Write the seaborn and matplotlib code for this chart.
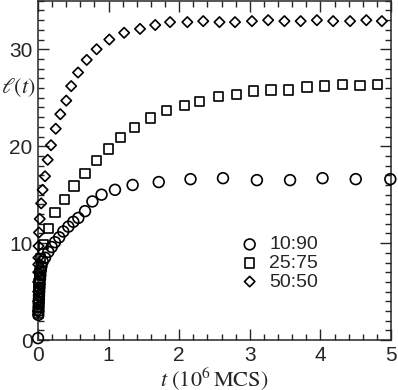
import numpy as np
import pandas as pd
import matplotlib
matplotlib.use('Agg')
import matplotlib.pyplot as plt
from matplotlib.ticker import MultipleLocator
import seaborn as sns

# data (t in 10^6 MCS, l = domain length)
t_1090 = [0.0, 0.004, 0.006, 0.008, 0.010, 0.012, 0.014, 0.017, 0.020, 0.024,
          0.028, 0.033, 0.040, 0.048, 0.067, 0.099, 0.146, 0.194, 0.24, 0.30,
          0.358, 0.43, 0.50, 0.571, 0.666, 0.77, 0.90, 1.09, 1.34, 1.71,
          2.16, 2.62, 3.10, 3.57, 4.03, 4.50, 4.99]
l_1090 = [0.2, 2.6, 3.0, 3.4, 3.8, 4.2, 4.6, 5.0, 5.4, 5.8,
          6.3, 6.7, 7.2, 7.6, 8.1, 8.5, 9.1, 9.6, 10.1, 10.6,
          11.2, 11.7, 12.2, 12.6, 13.3, 14.3, 15.0, 15.5, 16.0, 16.3,
          16.6, 16.7, 16.5, 16.5, 16.7, 16.6, 16.6]

t_2575 = [0.003, 0.005, 0.007, 0.009, 0.011, 0.014, 0.018, 0.023, 0.03, 0.075,
          0.146, 0.24, 0.38, 0.51, 0.666, 0.83, 1.0, 1.17, 1.37, 1.59,
          1.82, 2.07, 2.29, 2.56, 2.81, 3.05, 3.30, 3.55, 3.81, 4.06,
          4.31, 4.56, 4.81]
l_2575 = [2.8, 3.4, 4.0, 4.6, 5.2, 5.8, 6.4, 7.0, 8.4, 9.9,
          11.5, 13.2, 14.5, 15.9, 17.2, 18.5, 19.7, 20.9, 21.9, 22.9,
          23.7, 24.2, 24.6, 25.1, 25.3, 25.7, 25.8, 25.8, 26.1, 26.2,
          26.4, 26.3, 26.4]

t_5050 = [0.0005, 0.001, 0.0015, 0.002, 0.003, 0.004, 0.005, 0.008, 0.014, 0.025,
          0.045, 0.065, 0.099, 0.137, 0.184, 0.251, 0.316, 0.40, 0.47, 0.567,
          0.69, 0.83, 1.01, 1.22, 1.445, 1.66, 1.87, 2.115, 2.34, 2.57,
          2.79, 3.03, 3.26, 3.49, 3.72, 3.95, 4.18, 4.42, 4.65, 4.87]
l_5050 = [3.0, 4.0, 5.0, 6.0, 7.0, 7.8, 8.5, 9.7, 11.1, 12.5,
          14.1, 15.5, 16.9, 18.6, 20.1, 21.8, 23.3, 24.7, 26.2, 27.6,
          28.9, 30.0, 31.0, 31.7, 32.1, 32.5, 32.8, 32.8, 32.9, 32.8,
          32.8, 32.9, 33.0, 32.9, 32.9, 33.0, 32.9, 32.9, 33.0, 32.9]

labels = ['10:90', '25:75', '50:50']
markers = ['o', 's', 'D']
sizes = [60, 44, 28]

df = pd.concat([
    pd.DataFrame({'t': t_1090, 'l': l_1090, 'mix': labels[0]}),
    pd.DataFrame({'t': t_2575, 'l': l_2575, 'mix': labels[1]}),
    pd.DataFrame({'t': t_5050, 'l': l_5050, 'mix': labels[2]}),
])

sns.set_style('ticks')
plt.rcParams['font.family'] = ['Liberation Sans', 'DejaVu Sans']
plt.rcParams['mathtext.fontset'] = 'stix'

fig = plt.figure(figsize=(3.98, 3.90), dpi=100)
ax = fig.add_axes([0.0955, 0.128, 0.887, 0.870])

for lab, mk, sz in zip(labels, markers, sizes):
    sns.scatterplot(data=df[df['mix'] == lab], x='t', y='l', marker=mk, s=sz,
                    facecolor='none', edgecolor='black', linewidth=1.2,
                    label=lab, ax=ax, clip_on=False, zorder=3)

ax.set_xlim(0, 5)
ax.set_ylim(0, 35)
ax.xaxis.set_major_locator(MultipleLocator(1))
ax.xaxis.set_minor_locator(MultipleLocator(0.2))
ax.yaxis.set_major_locator(MultipleLocator(10))
ax.yaxis.set_minor_locator(MultipleLocator(1))
ax.tick_params(which='both', direction='in', top=True, right=True,
               labelsize=15, width=1.0, pad=4)
ax.tick_params(which='major', length=8)
ax.tick_params(which='minor', length=4.5)
for sp in ax.spines.values():
    sp.set_linewidth(1.1)

ax.set_xlabel(r'$t\ (10^6\,\mathrm{MCS})$', fontsize=16, labelpad=0)
ax.set_ylabel(r'$\ell(t)$', fontsize=16, rotation=0, labelpad=0)
ax.yaxis.set_label_coords(-0.056, 0.71)

ax.legend(loc='upper left', bbox_to_anchor=(0.55, 0.33), frameon=False,
          fontsize=14, handletextpad=0.5, labelspacing=0.05,
          handlelength=1.0, borderaxespad=0)

fig.savefig('out.png', dpi=100)
